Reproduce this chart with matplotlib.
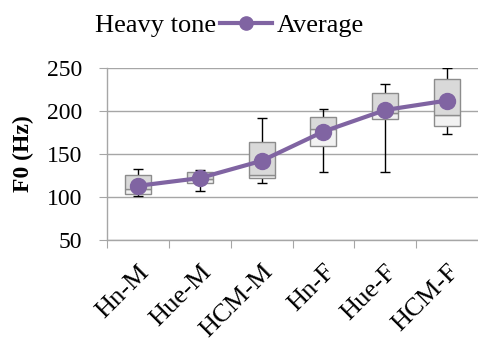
import matplotlib.pyplot as plt
from matplotlib.lines import Line2D

plt.rcParams['font.family'] = ['Liberation Serif', 'DejaVu Serif']

categories = ['Hn-M', 'Hue-M', 'HCM-M', 'Hn-F', 'Hue-F', 'HCM-F']
low = [101, 107, 116, 129, 129, 173]
q1 = [104, 116, 122, 159, 190, 183]
median = [109, 121, 126, 179, 198, 195]
q3 = [125, 129, 164, 193, 221, 237]
high = [132, 131, 192, 202, 231, 250]
average = [113, 122, 142, 176, 201, 212]

purple = '#8064a2'
grid = '#a6a6a6'
x = list(range(1, len(categories) + 1))

fig = plt.figure(figsize=(4.78, 3.44), dpi=100)
ax = fig.add_axes([0.224, 0.302, 0.776, 0.501])

# whiskers and caps
ax.vlines(x, low, high, color='black', lw=1.0, zorder=2)
ax.hlines(low, [i - 0.08 for i in x], [i + 0.08 for i in x], color='black', lw=1.0, zorder=2)
ax.hlines(high, [i - 0.08 for i in x], [i + 0.08 for i in x], color='black', lw=1.0, zorder=2)

# two-tone boxes: lower half light, upper half darker
ax.bar(x, [m - a for m, a in zip(median, q1)], bottom=q1, width=0.42,
       color='#f2f2f2', edgecolor='#8c8c8c', lw=1.0, zorder=3)
ax.bar(x, [b - m for b, m in zip(q3, median)], bottom=median, width=0.42,
       color='#d9d9d9', edgecolor='#8c8c8c', lw=1.0, zorder=3)

ax.plot(x, average, color=purple, lw=3, marker='o', ms=11.5, zorder=4)

ax.set_xlim(0.5, 6.5)
ax.set_ylim(50, 250)
ax.set_yticks([50, 100, 150, 200, 250])
ax.yaxis.grid(True, color=grid, lw=1.0)
ax.set_axisbelow(True)
for s in ['top', 'right']:
    ax.spines[s].set_visible(False)
for s in ['left', 'bottom']:
    ax.spines[s].set_color(grid)
    ax.spines[s].set_linewidth(1.0)

# ticks sit between categories, labels under the category centres
ax.set_xticks([i + 0.5 for i in range(6)])
ax.set_xticks(x, minor=True)
ax.set_xticklabels([])
ax.set_xticklabels(categories, minor=True, rotation=45, ha='right',
                   rotation_mode='anchor', fontsize=19)
ax.tick_params(axis='x', which='major', length=6, color=grid, direction='out')
ax.tick_params(axis='x', which='minor', length=0, pad=15)
ax.tick_params(axis='y', length=6, color=grid, labelsize=17, pad=12)

ax.set_ylabel('F0 (Hz)', fontsize=17, fontweight='bold', labelpad=9)

handles = [Line2D([], [], color='none'),
           Line2D([], [], color=purple, lw=3, marker='o', ms=9.5)]
fig.legend(handles, ['Heavy tone', 'Average'], loc='upper center',
           bbox_to_anchor=(0.42, 1.03), ncol=2, frameon=False, fontsize=19,
           handlelength=2.0, handletextpad=0.15, columnspacing=0.15)

plt.savefig('out.png', dpi=100)
